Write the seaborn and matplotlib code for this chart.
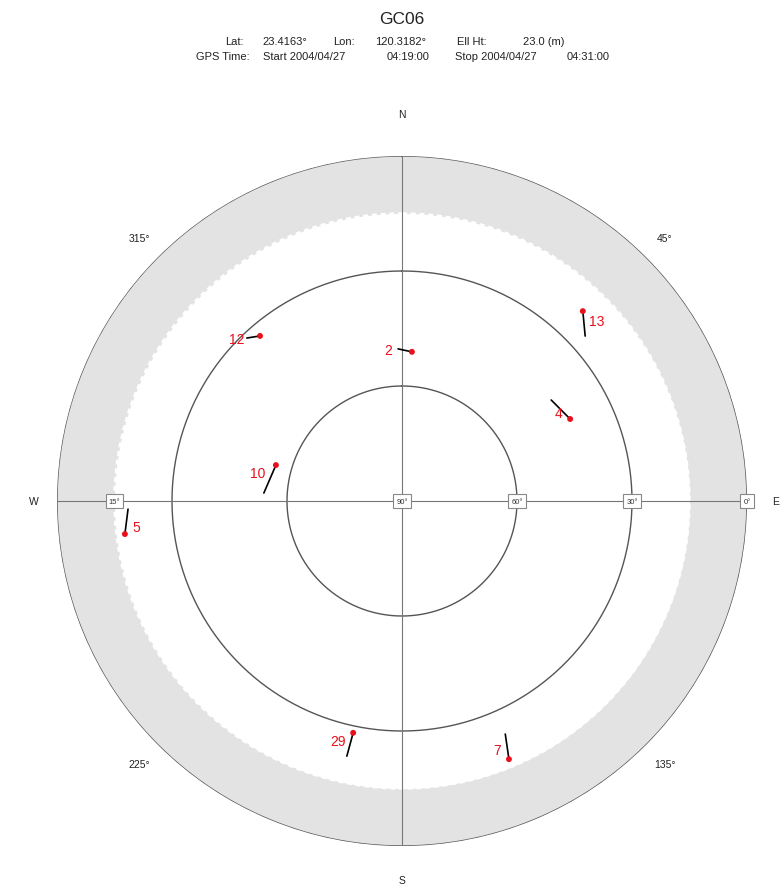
import numpy as np
import pandas as pd
import matplotlib
matplotlib.use("Agg")
import matplotlib.pyplot as plt
import seaborn as sns

# ---- data (azimuth deg, elevation deg) ----
prn = ['13', '2', '12', '4', '10', '5', '7', '29']
az_start = [48.0, 358.5, 316.4, 55.9, 273.3, 268.3, 156.1, 192.2]
el_start = [25.7, 50.3, 31.3, 43.0, 53.9, 18.5, 23.5, 21.9]
az_end = [43.6, 3.8, 319.3, 64.0, 285.9, 263.2, 157.5, 191.9]
el_end = [21.6, 51.0, 33.2, 41.2, 55.8, 17.2, 17.1, 28.2]

ring_el = [60, 30, 0]            # drawn circles
ring_labels = ['90°', '60°', '30°', '0°']
mask_el = 15
dir_labels = ['N', 'E', 'S', 'W']
diag_labels = ['45°', '135°', '225°', '315°']

site = 'GC06'
header1 = [('Lat:', 225), ('23.4163°', 262), ('Lon:', 333), ('120.3182°', 375),
           ('Ell Ht:', 457), ('23.0 (m)', 523)]
header2 = [('GPS Time:', 196), ('Start 2004/04/27', 263), ('04:19:00', 387),
           ('Stop 2004/04/27', 455), ('04:31:00', 567)]

# label offsets from track end, in pixels (right, down)
lab_off = {'13': (14, 10), '2': (-24, -2), '12': (-23, 3), '4': (-12, -6),
           '10': (-18, 8), '5': (11, -7), '7': (-12, -9), '29': (-15, 8)}

sns.set_style('white')
plt.rcParams['font.family'] = ['Liberation Sans', 'DejaVu Sans']

W, H = 782, 895
fig = plt.figure(figsize=(W / 100, H / 100), dpi=100)
cx, cy, R = 402, 502, 345
ax = fig.add_axes([(cx - R) / W, (H - cy - R) / H, 2 * R / W, 2 * R / H],
                  projection='polar')
ax.set_theta_zero_location('N')
ax.set_theta_direction(-1)
ax.set_rlim(0, 90)
ax.grid(False)
ax.set_xticks([])
ax.set_yticks([])
ax.spines['polar'].set_visible(False)
ax.patch.set_alpha(0)

th = np.linspace(0, 2 * np.pi, 721)
# elevation mask band
ax.fill_between(th, 90 - mask_el, 90, color='#e3e3e3', lw=0, zorder=0)
ax.plot(th, np.full_like(th, 90 - mask_el), color='white', lw=1.8,
        ls=(0, (2, 1.5)), zorder=1)
for e in ring_el:
    ax.plot(th, np.full_like(th, 90 - e), color='#555555', lw=1.0, zorder=2)
# cross hair
for a in [0, 90]:
    t = np.radians(a)
    ax.plot([t, t], [0, 90], color='#777777', lw=0.8, zorder=2)
    ax.plot([t + np.pi, t + np.pi], [0, 90], color='#777777', lw=0.8, zorder=2)

box = dict(boxstyle='square,pad=0.4', fc='white', ec='#888888', lw=0.8)
for lab, r in zip(ring_labels, [0, 30, 60, 90]):
    ax.text(np.radians(90), r, lab, fontsize=5.5, ha='center', va='center',
            bbox=box, zorder=5, color='#333333')
ax.text(np.radians(270), 90 - mask_el, '15°', fontsize=5.5, ha='center',
        va='center', bbox=box, zorder=5, color='#333333')

for lab, a, r in zip(dir_labels, [0, 90, 180, 270], [101, 97.5, 99, 96]):
    ax.text(np.radians(a), r, lab, fontsize=7.5, ha='center', va='center',
            clip_on=False, color='#222222')
for lab, a in zip(diag_labels, [45, 135, 225, 315]):
    ax.text(np.radians(a), 97, lab, fontsize=7.5, ha='center', va='center',
            clip_on=False, color='#222222')

# ---- satellite tracks ----
rows = []
for p, a0, e0, a1, e1 in zip(prn, az_start, el_start, az_end, el_end):
    rows.append(dict(prn=p, k=0, theta=np.radians(a0), r=90 - e0))
    rows.append(dict(prn=p, k=1, theta=np.radians(a1), r=90 - e1))
tracks = pd.DataFrame(rows)
ends = tracks[tracks.k == 1]

sns.lineplot(data=tracks, x='theta', y='r', units='prn', estimator=None,
             sort=False, color='black', lw=1.2, ax=ax, zorder=6)
sns.scatterplot(data=ends, x='theta', y='r', color='#e8101c', s=18,
                edgecolor='none', ax=ax, zorder=7)
for _, row in ends.iterrows():
    dx, dy = lab_off[row.prn]
    ax.annotate(row.prn, (row.theta, row.r), xytext=(dx * 0.72, -dy * 0.72),
                textcoords='offset points', ha='center', va='center',
                fontsize=10, color='#e8101c', zorder=8)
ax.set_xlabel('')
ax.set_ylabel('')
ax.set_rlim(0, 90)

# ---- header ----
fig.text(cx / W, 1 - 20 / H, site, fontsize=12.5, ha='center', va='center',
         color='#222222')
for s, x in header1:
    fig.text(x / W, 1 - 42 / H, s, fontsize=8, ha='left', va='center',
             color='#222222')
for s, x in header2:
    fig.text(x / W, 1 - 57 / H, s, fontsize=8, ha='left', va='center',
             color='#222222')

fig.savefig('out.png', dpi=100, facecolor='white')
